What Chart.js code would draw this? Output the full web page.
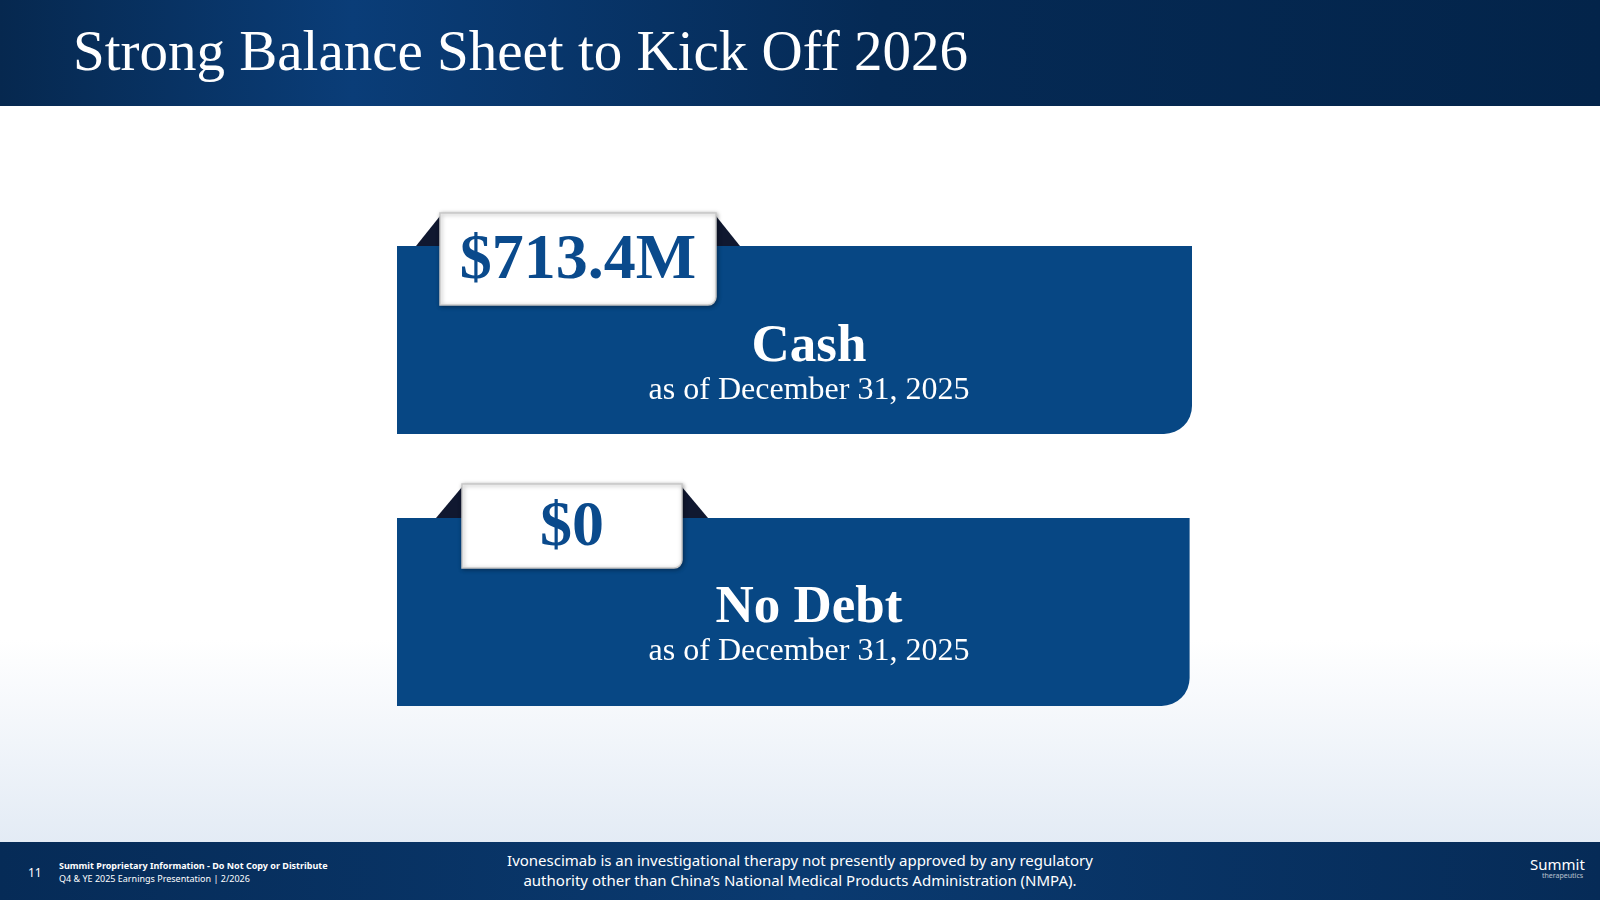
<!DOCTYPE html>
<html><head><meta charset="utf-8">
<script src="https://cdn.jsdelivr.net/npm/chart.js@4"></script>
<style>
html,body{margin:0;padding:0;width:1600px;height:900px;overflow:hidden;font-family:"Liberation Serif",serif}
body{background:linear-gradient(to bottom,#fff 0px,#fff 640px,#e3ebf5 843px)}
#hdr{position:absolute;left:0;top:0;width:1600px;height:106px;background:linear-gradient(90deg,#06284f 0%,#0a3d78 22%,#052a55 55%,#03244a 100%)}
#hdr h1{margin:0;position:absolute;left:73px;top:18px;color:#fff;font-weight:normal;font-size:57px;font-family:"Liberation Serif",serif}
#ftr{position:absolute;left:0;top:842px;width:1600px;height:58px;background:linear-gradient(90deg,#062b57,#0a3a70 50%,#062b57)}
.s{position:absolute;color:#fff;font-family:"Noto Sans",sans-serif}
#wrap{position:absolute;left:397px;top:204px;width:795px;height:544px}
</style></head><body>
<div id="hdr"><h1>Strong Balance Sheet to Kick Off 2026</h1></div>
<div id="wrap"><canvas id="c" width="795" height="544"></canvas></div>
<div id="ftr">
<div class="s" style="left:28px;top:22px;font-size:12px">11</div>
<div class="s" style="left:59px;top:17px;font-size:9px;font-weight:bold">Summit Proprietary Information - Do Not Copy or Distribute</div>
<div class="s" style="left:59px;top:30px;font-size:9px">Q4 &amp; YE 2025 Earnings Presentation | 2/2026</div>
<div class="s" style="left:480px;top:8px;width:640px;text-align:center;font-size:15px;line-height:20px">Ivonescimab is an investigational therapy not presently approved by any regulatory<br>authority other than China’s National Medical Products Administration (NMPA).</div>
<div class="s" style="left:1530px;top:12px;font-size:15px">Summit<div style="font-size:7px;opacity:.7;margin-left:12px;margin-top:-3px">therapeutics</div></div>
</div>
<script>
const categories=["Cash","No Debt"];
const valueLabels=["$713.4M","$0"];
const subLabels=["as of December 31, 2025","as of December 31, 2025"];
const panelSpan=[[0,1],[0,0.997]];
const tabs=[{l:43,r:319,top:-33,bot:59,tl:24,ty:101,sy:145},{l:65,r:285,top:-34,bot:50,tl:26,ty:90,sy:134}];
const tabPlugin={id:'tabs',afterDatasetsDraw(ch){
 const ctx=ch.ctx;const meta=ch.getDatasetMeta(0);
 meta.data.forEach((b,i)=>{
  const x0=b.base,top=b.y-b.height/2,t=tabs[i];
  ctx.save();
  ctx.fillStyle='#101830';
  ctx.beginPath();ctx.moveTo(x0+t.l-t.tl,top);ctx.lineTo(x0+t.l,top+t.top+3);ctx.lineTo(x0+t.l,top);ctx.fill();
  ctx.beginPath();ctx.moveTo(x0+t.r+t.tl,top);ctx.lineTo(x0+t.r,top+t.top+3);ctx.lineTo(x0+t.r,top);ctx.fill();
  ctx.shadowColor='rgba(0,0,0,0.35)';ctx.shadowBlur=4;ctx.shadowOffsetX=1;ctx.shadowOffsetY=1;
  ctx.fillStyle='#fff';ctx.strokeStyle='#c8c8c8';ctx.lineWidth=1.5;
  ctx.beginPath();ctx.roundRect(x0+t.l,top+t.top,t.r-t.l,t.bot-t.top,[0,0,8,0]);ctx.fill();ctx.stroke();
  ctx.shadowColor='transparent';
  ctx.fillStyle='#0a4a8c';ctx.textAlign='center';ctx.textBaseline='middle';
  ctx.font='bold 64px "Liberation Serif",serif';
  ctx.fillText(valueLabels[i],x0+(t.l+t.r)/2,top+(t.top+t.bot)/2+2);
  const cx=x0+412;
  ctx.fillStyle='#fff';
  ctx.font='bold 53px "Liberation Serif",serif';
  ctx.fillText(categories[i],cx,top+t.ty);
  ctx.font='32px "Liberation Serif",serif';
  ctx.fillText(subLabels[i],cx,top+t.sy);
  ctx.restore();
 });}};
new Chart(document.getElementById('c'),{type:'bar',
 data:{labels:categories,datasets:[{data:panelSpan,backgroundColor:'#074784',borderSkipped:false,
  borderRadius:{topLeft:0,topRight:0,bottomLeft:0,bottomRight:28},barPercentage:0.691,categoryPercentage:1}]},
 options:{indexAxis:'y',responsive:false,animation:false,maintainAspectRatio:false,
  layout:{padding:0},
  plugins:{legend:{display:false},tooltip:{enabled:false}},
  scales:{x:{display:false,min:0,max:1},y:{display:false}}},
 plugins:[tabPlugin]});
</script>
</body></html>
